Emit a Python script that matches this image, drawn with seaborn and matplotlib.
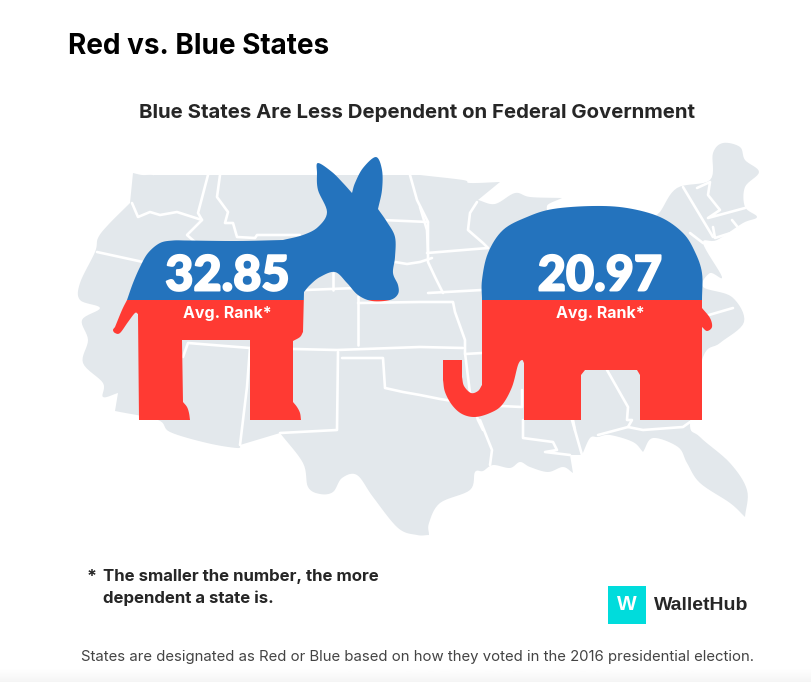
import matplotlib
matplotlib.use("Agg")
import matplotlib.pyplot as plt
import matplotlib.patheffects as pe
import numpy as np
import seaborn as sns
from matplotlib.patches import Rectangle, Polygon

# values
parties = ["Democrat", "Republican"]
avg_rank = [32.85, 20.97]
rank_label = "Avg. Rank*"
title = "Red vs. Blue States"
subtitle = "Blue States Are Less Dependent on Federal Government"
note_lines = ["The smaller the number, the more", "dependent a state is."]
footer = "States are designated as Red or Blue based on how they voted in the 2016 presidential election."

BLUE = "#2473BD"
RED = "#FF3A33"
MAP_GREY = "#E3E8EC"
INK = "#262626"
TEAL = "#00DCDC"

# traced outlines, in image pixels
us_outline = [
    (133,173),(142,175),(155,176),(153,188),(144,192),(143,183),(155,175),(320,175),(420,175),(463,180),(470,183),
    (500,182),(478,200),(495,204),(515,193),(530,197),(562,198),(547,206),(560,215),(640,225),(660,212),(677,188),(710,180),
    (713,153),(723,143),(740,147),(745,160),(759,172),(745,187),(745,207),(757,217),(743,223),(717,240),
    (703,243),(722,277),(710,273),(703,287),(732,297),(744,322),(720,343),(703,357),(690,422),(700,437),
    (730,463),(747,490),(745,517),(730,503),(700,483),(687,463),(678,447),(653,438),(643,452),(633,442),
    (610,435),(598,437),(590,438),(582,455),(570,455),(573,473),(563,467),(548,472),(530,467),(520,462),
    (510,468),(493,465),(483,471),(475,472),(470,490),(440,503),(429,523),(429,535),(417,535),(398,528),
    (373,497),(357,475),(342,478),(333,492),(320,494),(308,487),(303,463),(280,433),(240,445),(237,448),
    (207,443),(170,432),(158,420),(115,411),(118,393),(103,397),(103,383),(83,363),(88,340),(82,320),
    (100,308),(80,300),(80,283),(95,252),(98,238),(108,225),(130,203),
]
us_corners = [(133,173),(143,183),(155,175),(420,175),(500,182),(478,200),(562,198),(660,212),(745,517),
              (643,452),(582,455),(570,455),(573,473),(429,535),(280,433),(240,445),(115,411),(118,393),(130,203)]
state_lines = [
    [(132,203),(138,217),(150,212),(160,215),(177,212),(202,220)],
    [(208,175),(198,213),(202,220),(187,235),(195,242),(187,260)],
    [(97,252),(143,262)],
    [(220,175),(217,197),(228,212),(225,223),(233,223),(237,237),(255,238),(257,235),(300,235)],
    [(183,357),(188,343),(250,348),(337,350),(420,347),(463,348)],
    [(250,348),(247,387),(240,445)],
    [(338,352),(337,430),(280,433)],
    [(342,358),(383,358),(385,388),(403,392),(420,395),(440,399),(478,405),(522,407),(522,390)],
    [(358,303),(420,302),(453,302),(455,312),(465,340),(465,353),(470,393),(478,420),(483,430)],
    [(358,296),(358,345)],
    [(305,290),(357,288)],
    [(333,273),(333,290)],
    [(395,262),(407,264),(420,262),(432,258)],
    [(382,220),(428,222),(428,262),(435,277),(443,293)],
    [(410,175),(417,200),(428,222)],
    [(477,202),(470,213),(468,230),(483,243),(488,248)],
    [(427,253),(488,248)],
    [(428,293),(482,290)],
    [(465,354),(482,353)],
    [(607,370),(628,407),(627,420),(632,420),(628,427)],
    [(573,420),(575,430)],
    [(523,420),(523,438),(553,442),(557,450),(545,452),(570,455)],
    [(572,420),(582,455)],
    [(598,435),(628,427),(643,430),(683,427),(690,422)],
    [(480,420),(492,450),(490,465)],
    [(683,187),(713,237)],
    [(697,188),(710,182),(708,195),(720,210),(708,218),(745,208)],
    [(713,227),(715,238),(740,230),(732,220)],
    [(690,233),(703,243),(720,247)],
    [(702,317),(733,308)],
    [(420,207),(427,230),(428,253)],
]
donkey = [
    (113,330),(115,333),(120,333),(128,322),(135,313),(138,314),(139,420),(190,420),(189,413),(187,407),
    (183,402),(182,340),(250,340),(250,420),(301,420),(300,413),(297,407),(293,402),(293,341),(300,337),
    (303,332),(304,292),(310,285),(320,277),(335,272),(347,283),(358,295),(372,301),(390,300),(398,294),
    (398,285),(393,273),(395,257),(395,237),(387,222),(378,209),(382,190),(382,170),(376,157),(363,168),
    (355,183),(352,193),(343,183),(332,172),(318,163),(317,173),(318,190),(327,212),(318,227),(303,235),
    (283,240),(237,241),(186,240.5),(173,240.5),(160,243),(148,253),(140,267),(133,283),(127,300),(122,310),(115,327),
]
donkey_corners = [(138,314),(139,420),(190,420),(183,402),(182,340),(250,340),(250,420),(301,420),(293,402),
                  (293,341),(303,332),(304,292),(352,193),(378,209),(283,240),(186,240.5),(127,300),(115,327)]
elephant = [
    (443,360),(462,360),(462,377),(464,386),(471,393),(478,391),(482,385),(482,300),(482,280),(488,253),
    (503,230),(527,217),(553,209),(593,206),(627,208),(660,217),(683,233),(695,252),(702,273),(702,300),
    (702,308),(710,318),(712,327),(707,331),(702,327),(702,420),(640,420),(640,375),(637,370),(585,370),
    (581,375),(581,420),(524,420),(524,363),(522,360),(518,365),(512,387),(502,405),(490,413),(475,417),
    (462,414),(452,405),(445,392),(443,380),
]
elephant_corners = [(443,360),(462,360),(462,377),(482,385),(482,300),(702,300),(702,308),(702,327),(702,420),
                    (640,420),(640,375),(637,370),(585,370),(581,375),(581,420),(524,420),(524,363),(443,380)]


def round_off(points, corners, steps=8):
    """runs a Catmull-Rom curve through the traced points, keeps the corners sharp"""
    start = points.index(corners[0])
    ring = points[start:] + points[:start] + [corners[0]]
    cuts = [i for i, p in enumerate(ring) if p in corners]
    out = []
    for a, b in zip(cuts[:-1], cuts[1:]):
        run = np.array(ring[a:b + 1], dtype=float)
        pts = np.vstack([2 * run[0] - run[1], run, 2 * run[-1] - run[-2]])
        for i in range(1, len(pts) - 2):
            p0, p1, p2, p3 = pts[i - 1:i + 3]
            for t in np.linspace(0, 1, steps, endpoint=False):
                out.append(0.5 * (2 * p1 + (p2 - p0) * t + (2 * p0 - 5 * p1 + 4 * p2 - p3) * t ** 2
                                  + (3 * p1 - p0 - 3 * p2 + p3) * t ** 3))
    return np.array(out)


sns.set_theme(style="white")
plt.rcParams["font.family"] = ["Inter", "DejaVu Sans"]

fig = plt.figure(figsize=(8.12, 6.82), dpi=100)
ax = fig.add_axes([0, 0, 1, 1])

# page fades out at the bottom
fade = np.linspace(1, 0.96, 20).reshape(-1, 1)
ax.imshow(fade, extent=(0, 812, 682, 668), cmap="gray", vmin=0, vmax=1, aspect="auto", zorder=0)
ax.set_xlim(0, 812)
ax.set_ylim(682, 0)
ax.axis("off")

ax.add_patch(Polygon(round_off(us_outline, us_corners), closed=True, fc=MAP_GREY, ec="none", zorder=1))
for line in state_lines:
    xs, ys = zip(*line)
    ax.plot(xs, ys, color="white", lw=1.9, solid_joinstyle="round", zorder=2)

# mascots: the same shape twice, blue above the split line and red below
split_y = 300
for shape in (round_off(donkey, donkey_corners), round_off(elephant, elephant_corners)):
    for color, (top, bottom) in zip([BLUE, RED], [(0, split_y), (split_y, 682)]):
        patch = Polygon(shape, closed=True, fc=color, ec="none", zorder=3)
        ax.add_patch(patch)
        patch.set_clip_path(Rectangle((0, top), 812, bottom - top, transform=ax.transData))

# rank numbers, the stroke makes them as heavy as the original face
for cx, value in zip([227.5, 600], avg_rank):
    ax.text(cx, 276, f"{value:.2f}", color="white", fontsize=35, fontweight="black", family="Lato",
            ha="center", va="center", zorder=4,
            path_effects=[pe.withStroke(linewidth=1.4, foreground="white")])
    ax.text(cx, 313.5, rank_label, color="white", fontsize=11.5, fontweight="bold",
            ha="center", va="center", zorder=4)

ax.text(68, 46, title, color="black", fontsize=20.1, fontweight="bold", ha="left", va="center")
ax.text(417.5, 113, subtitle, color=INK, fontsize=14.65, fontweight="bold", ha="center", va="center")

ax.text(87, 578, "*", color=INK, fontsize=13, fontweight="bold", ha="left", va="center")
for y, line in zip([576, 598], note_lines):
    ax.text(103, y, line, color=INK, fontsize=12.1, fontweight="bold", ha="left", va="center")

# logo
ax.add_patch(Rectangle((608, 586), 38, 38, fc=TEAL, ec="none", zorder=3))
ax.text(627, 605, "W", color="white", fontsize=15, fontweight="bold", ha="center", va="center", zorder=4,
        family="Liberation Sans")
ax.text(654, 605, "WalletHub", color=INK, fontsize=14, fontweight="bold", ha="left", va="center",
        family="Liberation Sans")

ax.text(418, 657, footer, color="#444444", fontsize=10.73, ha="center", va="center")

fig.savefig("out.png", dpi=100)
